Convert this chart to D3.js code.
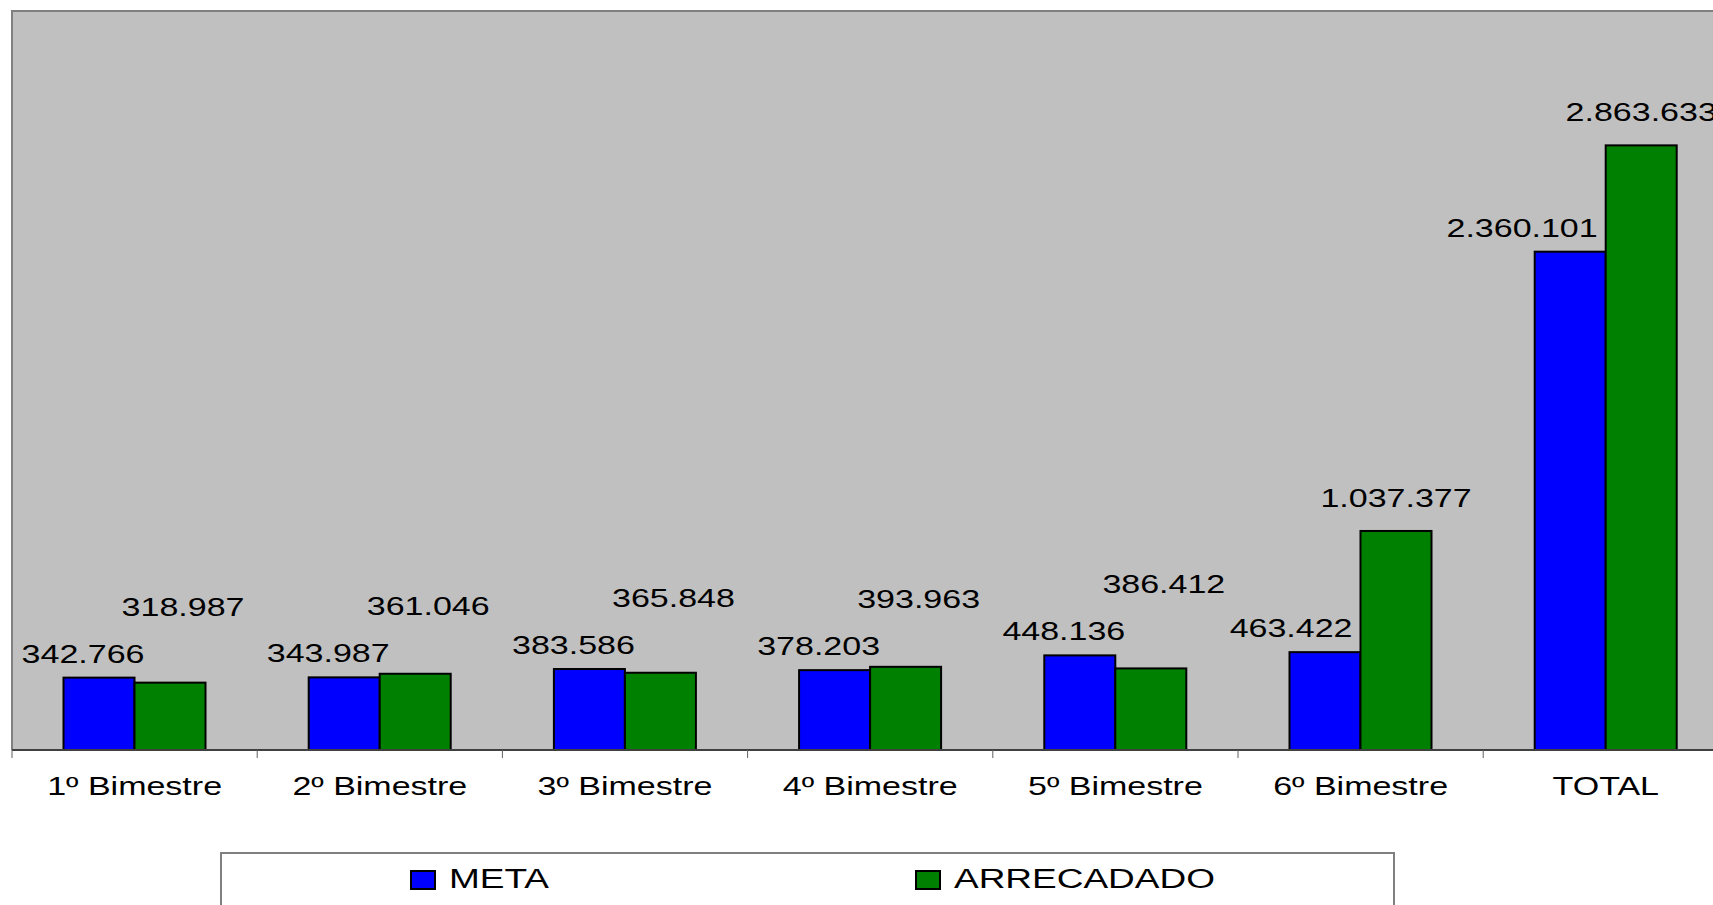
<!DOCTYPE html>
<html>
<head>
<meta charset="utf-8">
<script src="https://cdn.jsdelivr.net/npm/d3@7"></script>
<style>
  body { margin: 0; background: #fff; overflow: hidden; }
  text { font-family: "Liberation Sans", Arial, sans-serif; fill: #000; }
</style>
</head>
<body>
<svg id="chart" width="1713" height="905"></svg>
<script>
const categories = ['1º Bimestre', '2º Bimestre', '3º Bimestre', '4º Bimestre', '5º Bimestre', '6º Bimestre', 'TOTAL']
const series = ['META', 'ARRECADADO']
const meta = [342766, 343987, 383586, 378203, 448136, 463422, 2360101]
const arrecadado = [318987, 361046, 365848, 393963, 386412, 1037377, 2863633]
const colors = ['#0000ff', '#008000']

const svg = d3.select('#chart')
const plotLeft = 12, plotTop = 11, plotBottom = 750
const band = 245.2
const stretch = 1.36

const x = d3.scaleBand()
    .domain(categories)
    .range([plotLeft, plotLeft + band * categories.length])

const x1 = d3.scaleBand()
    .domain(series)
    .range([51.5, 193.5])

const y = d3.scaleLinear()
    .domain([0, 3500000])
    .range([plotBottom, plotTop])

const fmt = v => d3.format(',')(v).replace(/,/g, '.')

// plot area
svg.append('rect')
    .attr('x', plotLeft).attr('y', plotTop)
    .attr('width', 1713 - plotLeft).attr('height', plotBottom - plotTop)
    .attr('fill', '#c0c0c0')
svg.append('path')
    .attr('d', `M${plotLeft},${plotBottom}V${plotTop}H1713`)
    .attr('fill', 'none').attr('stroke', '#808080').attr('stroke-width', 2)

const rows = categories.map((c, i) => ({ cat: c, vals: [meta[i], arrecadado[i]] }))

const groups = svg.selectAll('g.grp')
    .data(rows)
    .enter().append('g')
        .attr('class', 'grp')
        .attr('transform', d => `translate(${x(d.cat)},0)`)

groups.selectAll('rect')
    .data(d => d.vals.map((v, j) => ({ s: series[j], v, j })))
    .enter().append('rect')
        .attr('x', d => x1(d.s))
        .attr('y', d => y(d.v))
        .attr('width', x1.bandwidth())
        .attr('height', d => plotBottom - y(d.v))
        .attr('fill', d => colors[d.j])
        .attr('stroke', '#000')
        .attr('stroke-width', 2)

// value labels: blue one steps left of a taller green bar,
// green one is pushed up when it would hit the blue label
groups.each(function (d) {
    const g = d3.select(this)
    const yb = y(d.vals[0]) - 15
    const yg0 = y(d.vals[1]) - 24
    const bumped = yg0 > yb - 47
    const yg = bumped ? yb - 47 : yg0
    const xg = x1(series[1]) + x1.bandwidth() / 2 + (bumped ? 13 : 0)

    const tb = g.append('text')
        .attr('text-anchor', 'middle')
        .attr('font-size', 25)
        .text(fmt(d.vals[0]))
    const w = tb.node().getComputedTextLength() * stretch
    let xb = x1(series[0]) + x1.bandwidth() / 2 - 16
    if (y(d.vals[1]) < yb - 18) xb = Math.min(xb, x1(series[1]) - 8 - w / 2)
    tb.attr('transform', `translate(${xb},${yb}) scale(${stretch},1)`)

    g.append('text')
        .attr('transform', `translate(${xg},${yg}) scale(${stretch},1)`)
        .attr('text-anchor', 'middle')
        .attr('font-size', 25)
        .text(fmt(d.vals[1]))
})

// x axis
const axis = svg.append('g')
axis.append('line')
    .attr('x1', plotLeft).attr('x2', 1713)
    .attr('y1', plotBottom).attr('y2', plotBottom)
    .attr('stroke', '#404040').attr('stroke-width', 2)
axis.selectAll('line.tick')
    .data(categories)
    .enter().append('line')
        .attr('class', 'tick')
        .attr('x1', d => x(d)).attr('x2', d => x(d))
        .attr('y1', plotBottom).attr('y2', plotBottom + 8)
        .attr('stroke', '#606060')
axis.selectAll('text')
    .data(categories)
    .enter().append('text')
        .attr('transform', d => `translate(${x(d) + x.bandwidth() / 2},795) scale(${stretch},1)`)
        .attr('text-anchor', 'middle')
        .attr('font-size', 25)
        .text(d => d)

// legend
const legend = svg.append('g')
legend.append('rect')
    .attr('x', 221).attr('y', 853)
    .attr('width', 1173).attr('height', 80)
    .attr('fill', '#fff').attr('stroke', '#808080').attr('stroke-width', 2)
const legX = [411, 916]
series.forEach((s, i) => {
    legend.append('rect')
        .attr('x', legX[i]).attr('y', 871)
        .attr('width', 24).attr('height', 18)
        .attr('fill', colors[i]).attr('stroke', '#000').attr('stroke-width', 2)
    legend.append('text')
        .attr('transform', `translate(${legX[i] + 38},888) scale(1.37,1)`)
        .attr('font-size', 27)
        .text(s)
})
</script>
</body>
</html>
